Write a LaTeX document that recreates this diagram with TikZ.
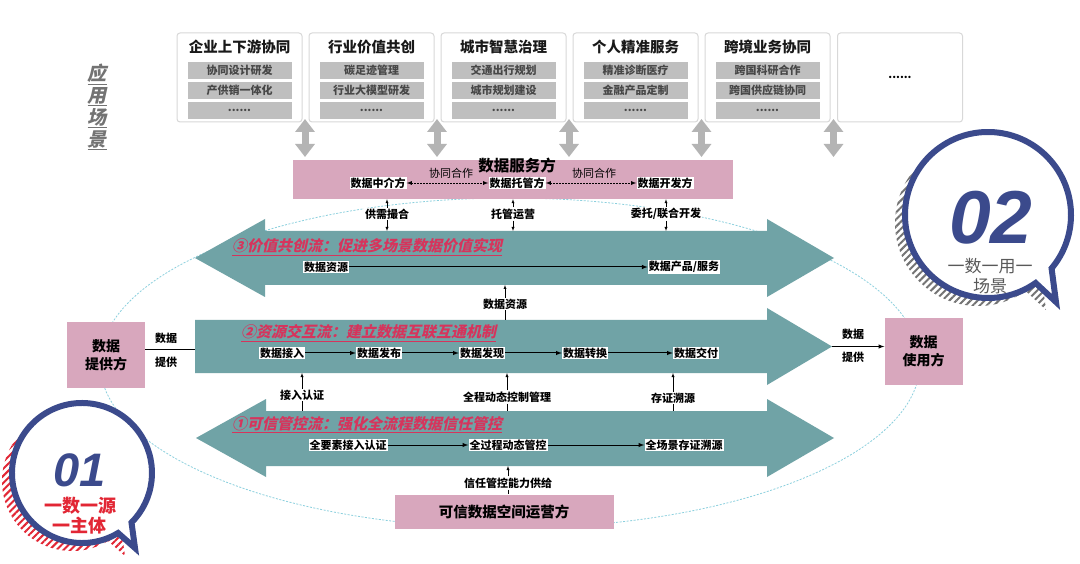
\documentclass[tikz,border=0pt]{standalone}
\usepackage{fontspec}
\setmainfont{Noto Sans CJK SC}
\newfontfamily\slantcjk{Noto Sans CJK SC}[FakeSlant=0.22]
\newfontfamily\numfont{Liberation Sans}
\usetikzlibrary{arrows.meta,patterns.meta}
\tikzset{>=latex}
\definecolor{flowteal}{RGB}{112,163,166}
\definecolor{rolepink}{RGB}{216,167,189}
\definecolor{barcol}{RGB}{191,191,191}
\definecolor{cardline}{RGB}{216,216,216}
\definecolor{gaparrow}{RGB}{180,180,180}
\definecolor{flowred}{RGB}{214,52,92}
\definecolor{badgeblue}{RGB}{59,74,140}
\definecolor{badgered}{RGB}{226,38,52}
\definecolor{ringcyan}{RGB}{140,208,222}
\tikzset{card/.style = {draw=cardline, fill=white, rounded corners=3pt, line width=1pt, minimum width=125pt, minimum height=89pt}}
\tikzset{cardtitle/.style = {font=\fontsize{14.5}{16}\selectfont\bfseries, text=black!90}}
\tikzset{cardbar/.style = {fill=barcol, minimum width=104pt, minimum height=16.5pt, inner sep=0pt, font=\fontsize{11}{12}\selectfont\bfseries, text=black!72}}
\tikzset{gapar/.style = {draw=gaparrow, line width=7pt, {Triangle[width=19pt,length=13pt]}-{Triangle[width=19pt,length=13pt]}}}
\tikzset{role/.style = {fill=rolepink, align=center, inner sep=0pt, font=\fontsize{14}{18}\selectfont\bfseries}}
\tikzset{flowname/.style = {anchor=west, inner sep=0pt, text=flowred, font=\slantcjk\fontsize{15}{16}\selectfont\bfseries}}
\tikzset{stage/.style = {fill=white, inner sep=1pt, font=\fontsize{11}{12}\selectfont\bfseries}}
\tikzset{link/.style = {fill=white, inner sep=1pt, font=\fontsize{11}{12}\selectfont\bfseries}}
\tikzset{plain/.style = {inner sep=1pt, font=\fontsize{11}{12}\selectfont\bfseries}}
\tikzset{chain/.style = {->, line width=1pt}}
\tikzset{coopar/.style = {<->, line width=0.8pt, dash pattern=on 2pt off 1pt}}
\tikzset{bubble/.style = {draw=badgeblue, fill=white, line width=6pt, line join=miter}}
\tikzset{hatch/.style = {pattern={Lines[angle=45,distance=5pt,line width=2pt]}}}

\begin{document}
\begin{tikzpicture}[x=1pt,y=-1pt]
\useasboundingbox[fill=white] (0,0) rectangle (1080,564);

\draw[ringcyan, line width=0.8pt, dash pattern=on 2pt off 1.5pt] (510,363) ellipse [x radius=410, y radius=165];

\node[text=black!55, align=center, font=\slantcjk\fontsize{19}{22}\selectfont\bfseries] (scn) at (97,107) {\underline{应}\\\underline{用}\\\underline{场}\\\underline{景}};

\node[card] (sc1) at (239.5,77.5) {};
\node[cardtitle] (sc1t) at (239.5,47) {企业上下游协同};
\node[cardbar] (sc1a) at (239.5,70.5) {协同设计研发};
\node[cardbar] (sc1b) at (239.5,90.5) {产供销一体化};
\node[cardbar] (sc1c) at (239.5,110.5) {......};
\node[card] (sc2) at (371.5,77.5) {};
\node[cardtitle] (sc2t) at (371.5,47) {行业价值共创};
\node[cardbar] (sc2a) at (371.5,70.5) {碳足迹管理};
\node[cardbar] (sc2b) at (371.5,90.5) {行业大模型研发};
\node[cardbar] (sc2c) at (371.5,110.5) {......};
\node[card] (sc3) at (503.5,77.5) {};
\node[cardtitle] (sc3t) at (503.5,47) {城市智慧治理};
\node[cardbar] (sc3a) at (503.5,70.5) {交通出行规划};
\node[cardbar] (sc3b) at (503.5,90.5) {城市规划建设};
\node[cardbar] (sc3c) at (503.5,110.5) {......};
\node[card] (sc4) at (635.5,77.5) {};
\node[cardtitle] (sc4t) at (635.5,47) {个人精准服务};
\node[cardbar] (sc4a) at (635.5,70.5) {精准诊断医疗};
\node[cardbar] (sc4b) at (635.5,90.5) {金融产品定制};
\node[cardbar] (sc4c) at (635.5,110.5) {......};
\node[card] (sc5) at (767.5,77.5) {};
\node[cardtitle] (sc5t) at (767.5,47) {跨境业务协同};
\node[cardbar] (sc5a) at (767.5,70.5) {跨国科研合作};
\node[cardbar] (sc5b) at (767.5,90.5) {跨国供应链协同};
\node[cardbar] (sc5c) at (767.5,110.5) {......};
\node[card] (sc6) at (900,77.5) {};
\node[font=\fontsize{11}{12}\selectfont\bfseries] (sc6t) at (900,77) {......};

\coordinate (ga1) at (305,119);   \coordinate (gb1) at (305,157);
\coordinate (ga2) at (437,119);   \coordinate (gb2) at (437,157);
\coordinate (ga3) at (569,119);   \coordinate (gb3) at (569,157);
\coordinate (ga4) at (701.5,119); \coordinate (gb4) at (701.5,157);
\coordinate (ga5) at (833.5,119); \coordinate (gb5) at (833.5,157);
\draw[gapar] (ga1) -- (gb1);
\draw[gapar] (ga2) -- (gb2);
\draw[gapar] (ga3) -- (gb3);
\draw[gapar] (ga4) -- (gb4);
\draw[gapar] (ga5) -- (gb5);

\node[role, minimum width=440pt, minimum height=39pt] (srv) at (513,179.5) {};
\node[font=\fontsize{15.5}{16}\selectfont\bfseries] (srvt) at (517,166) {数据服务方};
\node[stage] (agt) at (378,183) {数据中介方};
\node[stage] (hst) at (517,183) {数据托管方};
\node[stage] (dev) at (665,183) {数据开发方};
\node[font=\fontsize{11}{12}\selectfont, inner sep=0pt] (co1) at (451,173) {协同合作};
\node[font=\fontsize{11}{12}\selectfont, inner sep=0pt] (co2) at (594,173) {协同合作};
\draw[coopar] (agt) -- (hst);
\draw[coopar] (hst) -- (dev);

\fill[flowteal] (195,258) -- (265,219) -- (265,231) -- (767,231) -- (767,219) -- (834,258) -- (767,297) -- (767,285) -- (265,285) -- (265,297) -- cycle;
\fill[flowteal] (195,320) -- (767,320) -- (767,308) -- (832,346.5) -- (767,385) -- (767,373) -- (195,373) -- cycle;
\fill[flowteal] (196,438) -- (266,399) -- (266,411) -- (767,411) -- (767,399) -- (834,438) -- (767,477) -- (767,466) -- (266,466) -- (266,477) -- cycle;
\coordinate (f3t) at (0,231);
\coordinate (f3b) at (0,285);
\coordinate (f2t) at (0,320);
\coordinate (f2b) at (0,373);
\coordinate (f1t) at (0,411);
\coordinate (f1b) at (0,466);

\node[link] (l1) at (387,214) {供需撮合};
\node[link] (l2) at (513,214) {托管运营};
\node[link] (l3) at (666,214) {委托/联合开发};
\draw[->] (l1) -- (l1 |- srv.south);
\draw[->] (l1) -- (l1 |- f3t);
\draw[->] (l2) -- (l2 |- srv.south);
\draw[->] (l2) -- (l2 |- f3t);
\draw[->] (l3) -- (l3 |- srv.south);
\draw[->] (l3) -- (l3 |- f3t);

\node[flowname] (n3) at (232,247) {\underline{③价值共创流：促进多场景数据价值实现}};
\node[stage] (r1) at (326,267) {数据资源};
\node[stage] (r2) at (684,267) {数据产品/服务};
\draw[chain] (r1) -- (r2);

\node[link] (l4) at (505,304) {数据资源};
\draw[->] (l4) -- (l4 |- f3b);
\draw (l4) -- (l4 |- f2t);

\node[flowname] (n2) at (241,333) {\underline{②资源交互流：建立数据互联互通机制}};
\node[stage] (x1) at (282,353) {数据接入};
\node[stage] (x2) at (379,353) {数据发布};
\node[stage] (x3) at (482,353) {数据发现};
\node[stage] (x4) at (585,353) {数据转换};
\node[stage] (x5) at (696,353) {数据交付};
\draw[chain] (x1) -- (x2);
\draw[chain] (x2) -- (x3);
\draw[chain] (x3) -- (x4);
\draw[chain] (x4) -- (x5);

\node[role, minimum width=78pt, minimum height=66pt] (prv) at (106,355) {数据\\提供方};
\coordinate (f2l) at (195,350);
\draw[line width=1pt] (prv.east |- f2l) -- (f2l);
\node[plain] (pd1) at (166,338) {数据};
\node[plain] (pd2) at (166,362) {提供};

\node[role, minimum width=78pt, minimum height=66pt] (usr) at (923.5,351.5) {数据\\使用方};
\coordinate (f2tip) at (832,346.5);
\draw[chain] (f2tip) -- (usr.west |- f2tip);
\node[plain] (ud1) at (853,334) {数据};
\node[plain] (ud2) at (853,357) {提供};

\node[link] (l5) at (302,395) {接入认证};
\node[link] (l6) at (507,397) {全程动态控制管理};
\node[link] (l7) at (673,398) {存证溯源};
\draw[->] (l5) -- (l5 |- f2b);
\draw (l5) -- (l5 |- f1t);
\draw[->] (l6) -- (l6 |- f2b);
\draw (l6) -- (l6 |- f1t);
\draw[->] (l7) -- (l7 |- f2b);
\draw (l7) -- (l7 |- f1t);

\node[flowname] (n1) at (232,425) {\underline{①可信管控流：强化全流程数据信任管控}};
\node[stage] (q1) at (348,445) {全要素接入认证};
\node[stage] (q2) at (508,445) {全过程动态管控};
\node[stage] (q3) at (684,445) {全场景存证溯源};
\draw[chain] (q1) -- (q2);
\draw[chain] (q2) -- (q3);

\node[role, minimum width=219pt, minimum height=34pt, font=\fontsize{14.5}{16}\selectfont\bfseries] (opr) at (504,511.5) {可信数据空间运营方};
\node[link] (l8) at (508,483) {信任管控能力供给};
\draw[->] (l8) -- (l8 |- f1b);
\draw (l8) -- (l8 |- opr.north);

\fill[hatch, pattern color=badgered] (72,481) ++(59:70) arc[start angle=59, end angle=405, radius=70] -- (125,556) -- cycle;
\filldraw[bubble] (82,473) ++(59:70) arc[start angle=59, end angle=405, radius=70] -- (135,548) -- cycle;
\node[text=badgeblue, inner sep=0pt, font=\numfont\fontsize{47}{47}\selectfont\bfseries\itshape] (n01) at (80,470) {01};
\node[text=badgered, align=center, inner sep=0pt, font=\fontsize{18}{20}\selectfont\bfseries] (t01) at (80,516) {一数一源\\一主体};

\fill[hatch, pattern color=black!55] (978,223) ++(55:83) arc[start angle=55, end angle=400, radius=83] -- (1046,310) -- cycle;
\filldraw[bubble] (988,215) ++(55:83) arc[start angle=55, end angle=400, radius=83] -- (1056,302) -- cycle;
\node[text=badgeblue, inner sep=0pt, font=\numfont\fontsize{75}{75}\selectfont\bfseries\itshape] (n02) at (991,218) {02};
\node[text=black!65, align=center, inner sep=0pt, font=\fontsize{17}{20}\selectfont] (t02) at (990,276) {一数一用一\\场景};
\end{tikzpicture}
\end{document}
